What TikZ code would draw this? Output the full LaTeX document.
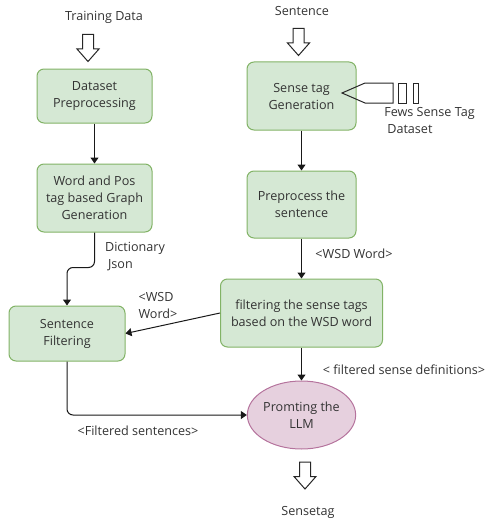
\documentclass[tikz,border=0pt]{standalone}
\usepackage{fontspec}
\setmainfont{Open Sans}
\usetikzlibrary{shapes.geometric,arrows.meta}
\definecolor{gfill}{HTML}{D5E8D4}
\definecolor{gdraw}{HTML}{82B366}
\definecolor{pfill}{HTML}{E6D0DE}
\definecolor{pdraw}{HTML}{B5739D}
\definecolor{txt}{HTML}{333333}
\tikzset{
  box/.style={draw=gdraw, fill=gfill, rounded corners=7pt, line width=1pt, align=center,
    text=txt, font=\fontsize{12.6}{17}\selectfont, inner sep=0pt},
  oval/.style={ellipse, draw=pdraw, fill=pfill, line width=1pt, align=center,
    text=txt, font=\fontsize{12.6}{17}\selectfont, inner sep=0pt},
  lbl/.style={text=txt, font=\fontsize{12.6}{17}\selectfont, inner sep=0pt},
  conn/.style={draw=black!90, line width=1pt, -{Triangle[length=6pt,width=8pt]}},
  hollow/.pic={\draw[line width=1pt, draw=black!85, fill=white]
    (-5.5,-13.5) -- (5.5,-13.5) -- (5.5,1) -- (11,1) -- (0,13.5) -- (-11,1) -- (-5.5,1) -- cycle;}
}
\begin{document}
\begin{tikzpicture}[x=1pt,y=-1pt]
\useasboundingbox (0,0) rectangle (487,519);

% left column
\node[lbl] (train) at (104,17) {Training Data};
\pic at (88,48) {hollow};
\node[box, minimum width=115pt, minimum height=54pt] (dp) at (94.5,96) {Dataset\\Preprocessing};
\node[box, minimum width=115pt, minimum height=68pt] (wp) at (94.5,198) {Word and Pos\\tag based Graph\\Generation};
\node[box, minimum width=116pt, minimum height=55pt] (sf) at (67,333.5) {Sentence\\Filtering};

% right column
\node[lbl] (sent) at (302,11) {Sentence};
\pic at (298.5,42) {hollow};
\node[box, minimum width=109pt, minimum height=68pt] (stg) at (301.5,96) {Sense tag\\Generation};
\node[box, minimum width=109pt, minimum height=67pt] (pre) at (301.5,204.5) {Preprocess the\\sentence};
\node[box, minimum width=162pt, minimum height=68pt] (filt) at (301.5,313) {filtering the sense tags\\based on the WSD word};
\node[oval, minimum width=95pt, minimum height=68pt] (llm) at (301.5,415) {Promting the\\LLM};
\pic at (305,475.5) {hollow};
\node[lbl] (out) at (308,512) {Sensetag};

% data store shape
\draw[line width=1pt, draw=black!85] (342,93) -- (365,83) -- (393,83) -- (393,103) -- (365,103) -- cycle;
\draw[line width=1pt, draw=black!85] (398,83) rectangle (406,103);
\draw[line width=1pt, draw=black!85] (413,83) rectangle (418,103);
\node[lbl, align=left] (fews) at (429.5,120.5) {Fews Sense Tag\\\hspace{3pt}Dataset};

% connectors
\draw[conn] (dp.south) -- (wp.north);
\draw[conn, rounded corners=6pt] (wp.south) -- ++(0,35) -| (sf.north);
\draw[conn] (filt.west) -- (sf.east);
\draw[conn, rounded corners=6pt] (sf.south) |- (llm.west);
\draw[conn] (stg.south) -- (pre.north);
\draw[conn] (pre.south) -- (filt.north);
\draw[conn] (filt.south) -- (llm.north);

% labels
\node[lbl, align=left] (dj) at (135,256.5) {Dictionary\\\hspace{3pt}Json};
\node[lbl, align=left] (ww1) at (158,305) {<WSD\\Word>};
\node[lbl] (fs) at (138,431) {<Filtered sentences>};
\node[lbl] (ww2) at (354,254) {<WSD Word>};
\node[lbl] (fsd) at (404,370) {< filtered sense definitions>};
\end{tikzpicture}
\end{document}
